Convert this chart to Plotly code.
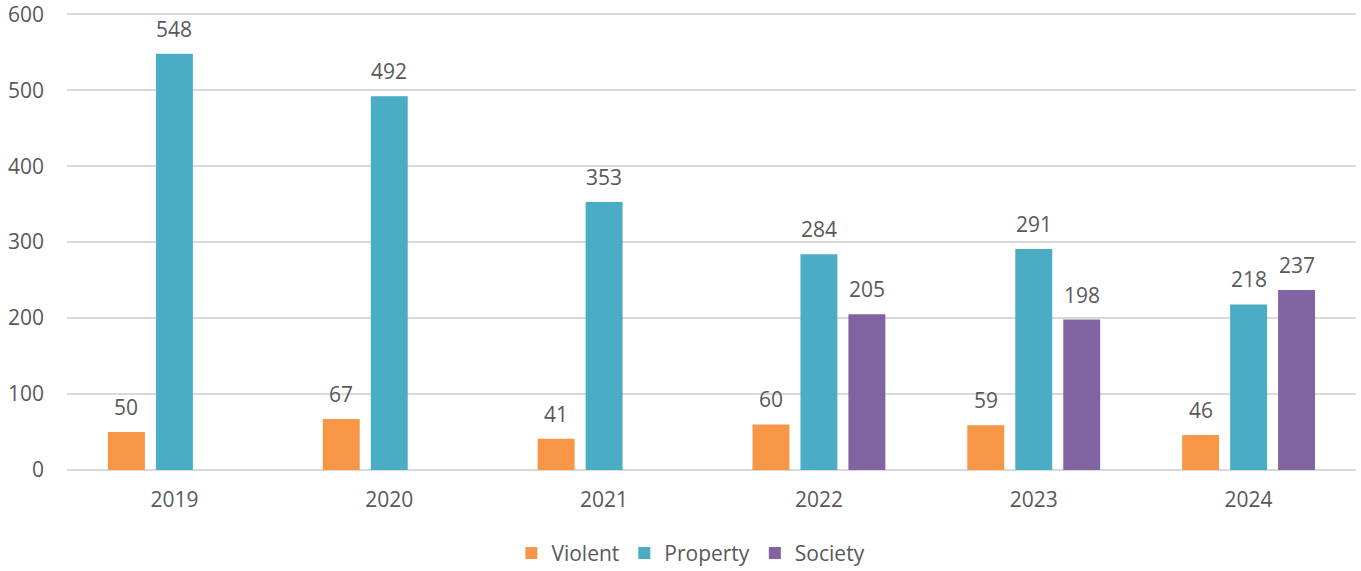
import plotly.graph_objects as go

years = ["2019", "2020", "2021", "2022", "2023", "2024"]
violent = [50, 67, 41, 60, 59, 46]
property_ = [548, 492, 353, 284, 291, 218]
society = [None, None, None, 205, 198, 237]

series = [
    ("Violent", violent, "#F79646", -48),
    ("Property", property_, "#4BACC6", 0),
    ("Society", society, "#8064A2", 48),
]

FONT = "Open Sans"
TXT = "#595959"
FS = 21

fig = go.Figure()
annotations = []
for name, vals, color, shift in series:
    fig.add_trace(go.Bar(name=name, x=years, y=vals, marker_color=color,
                         marker_line_width=0))
    for i, v in enumerate(vals):
        if v is None:
            continue
        annotations.append(dict(x=i, y=v, xref="x", yref="y", text=str(v),
                                showarrow=False, xshift=shift, yshift=9,
                                yanchor="bottom",
                                font=dict(family=FONT, size=FS, color=TXT)))

fig.update_layout(
    width=1361, height=571,
    margin=dict(l=67, r=5, t=12, b=101, autoexpand=False),
    paper_bgcolor="white", plot_bgcolor="white",
    barmode="group", bargap=0.33, bargroupgap=0.23,
    font=dict(family=FONT, size=FS, color=TXT),
    annotations=annotations,
    showlegend=True,
    legend=dict(orientation="h", x=0.484, xanchor="center", y=-0.182,
                yanchor="middle", font=dict(family=FONT, size=FS, color=TXT),
                traceorder="normal"),
    xaxis=dict(type="category", range=[-0.5, len(years) - 0.5],
               showgrid=False, showline=False, ticks="",
               ticklabelstandoff=15, automargin=False,
               tickfont=dict(family=FONT, size=FS, color=TXT)),
    yaxis=dict(range=[0, 603], tickvals=[0, 100, 200, 300, 400, 500, 600],
               showgrid=True, gridcolor="#D9D9D9",
               gridwidth=1.5, zeroline=True, zerolinecolor="#D9D9D9",
               zerolinewidth=1.5, showline=False, ticks="", automargin=False,
               ticklabelstandoff=22, ticklabeloverflow="allow",
               tickfont=dict(family=FONT, size=FS, color=TXT)),
)

fig.write_html("out.html", config={"displayModeBar": False},
               post_script="document.body.style.margin='0';document.body.style.overflow='hidden';")
